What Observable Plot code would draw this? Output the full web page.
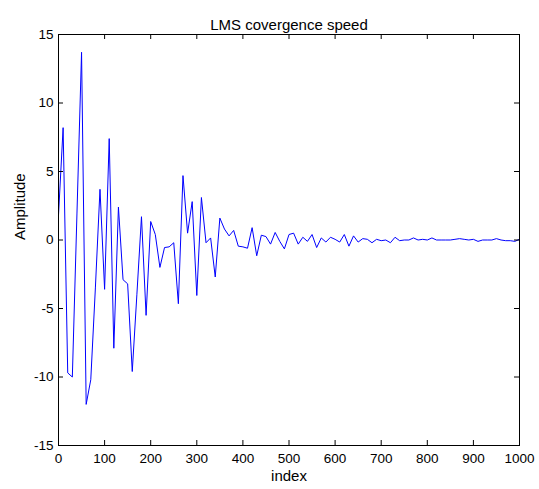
<!DOCTYPE html>
<html>
<head>
<meta charset="utf-8">
<script src="https://cdn.jsdelivr.net/npm/d3@7"></script>
<script src="https://cdn.jsdelivr.net/npm/@observablehq/plot@0.6"></script>
<style>
  html, body { margin: 0; padding: 0; background: #fff; }
</style>
</head>
<body>
<div id="chart"></div>
<script>
const title = "LMS covergence speed";
const xLabel = "index";
const yLabel = "Amplitude";

// sample index (every 10 samples)
const indices = [
  0, 10, 20, 30, 40, 50, 60, 70, 80, 90,
  100, 110, 120, 130, 140, 150, 160, 170, 180, 190,
  200, 210, 220, 230, 240, 250, 260, 270, 280, 290,
  300, 310, 320, 330, 340, 350, 360, 370, 380, 390,
  400, 410, 420, 430, 440, 450, 460, 470, 480, 490,
  500, 510, 520, 530, 540, 550, 560, 570, 580, 590,
  600, 610, 620, 630, 640, 650, 660, 670, 680, 690,
  700, 710, 720, 730, 740, 750, 760, 770, 780, 790,
  800, 810, 820, 830, 840, 850, 860, 870, 880, 890,
  900, 910, 920, 930, 940, 950, 960, 970, 980, 990,
  1000
];

const amplitudes = [
  1.8, 8.2, -9.7, -10.0, 1.9, 13.7, -12.0, -10.2, -3.5, 3.7,
  -3.6, 7.4, -7.9, 2.4, -2.9, -3.2, -9.6, -4.0, 1.7, -5.5,
  1.35, 0.4, -2.0, -0.55, -0.5, -0.2, -4.65, 4.7, 0.5, 2.8,
  -4.05, 3.1, -0.2, 0.15, -2.7, 1.6, 0.8, 0.3, 0.7, -0.45,
  -0.5, -0.6, 0.9, -1.15, 0.35, 0.25, -0.3, 0.55, -0.1, -0.65,
  0.4, 0.5, -0.3, 0.2, -0.1, 0.4, -0.55, 0.15, -0.15, 0.2,
  0.05, -0.15, 0.4, -0.45, 0.3, -0.15, 0.1, 0.05, -0.2, 0.05,
  -0.05, 0.0, -0.2, 0.2, -0.05, 0.0, 0.0, 0.15, 0.0, 0.05,
  0.0, 0.15, 0.0, 0.0, 0.0, 0.0, 0.05, 0.1, 0.05, 0.0,
  0.05, -0.1, 0.0, 0.0, 0.0, 0.1, 0.0, -0.05, -0.05, -0.1,
  0.05
];

const xTicks = [0, 100, 200, 300, 400, 500, 600, 700, 800, 900, 1000];
const yTicks = [-15, -10, -5, 0, 5, 10, 15];

const data = indices.map((x, i) => ({x, y: amplitudes[i]}));

const W = 539, H = 489;
const mL = 58, mR = 20, mT = 34, mB = 44;
const innerW = W - mL - mR, innerH = H - mT - mB;
const tickLen = 5;
const font = "'Liberation Sans', Arial, Helvetica, sans-serif";

const chart = Plot.plot({
  width: W,
  height: H,
  marginLeft: mL,
  marginRight: mR,
  marginTop: mT,
  marginBottom: mB,
  style: {fontFamily: font, fontSize: "13.5px", color: "#000", background: "#fff"},
  x: {domain: [0, 1000]},
  y: {domain: [-15, 15]},
  marks: [
    Plot.line(data, {x: "x", y: "y", stroke: "#0000ff", strokeWidth: 1}),
    // inward ticks on all four sides (MATLAB style)
    Plot.tickX(xTicks, {x: d => d, insetTop: innerH - tickLen, stroke: "#000"}),
    Plot.tickX(xTicks, {x: d => d, insetBottom: innerH - tickLen, stroke: "#000"}),
    Plot.tickY(yTicks, {y: d => d, insetRight: innerW - tickLen, stroke: "#000"}),
    Plot.tickY(yTicks, {y: d => d, insetLeft: innerW - tickLen, stroke: "#000"}),
    Plot.axisX({ticks: xTicks, tickSize: 0, tickPadding: 8, tickFormat: d => String(d), label: null}),
    Plot.axisY({ticks: yTicks, tickSize: 0, tickPadding: 5, tickFormat: d => String(d), label: null}),
    Plot.frame({stroke: "#000"}),
    Plot.text([title], {frameAnchor: "top", dy: -15, fontSize: 15, fill: "#000"}),
    Plot.text([xLabel], {frameAnchor: "bottom", dy: 35, fontSize: 15, fill: "#000"}),
    Plot.text([yLabel], {frameAnchor: "left", dx: -38, rotate: -90, fontSize: 15, fill: "#000"})
  ]
});

document.getElementById("chart").appendChild(chart);
</script>
</body>
</html>
